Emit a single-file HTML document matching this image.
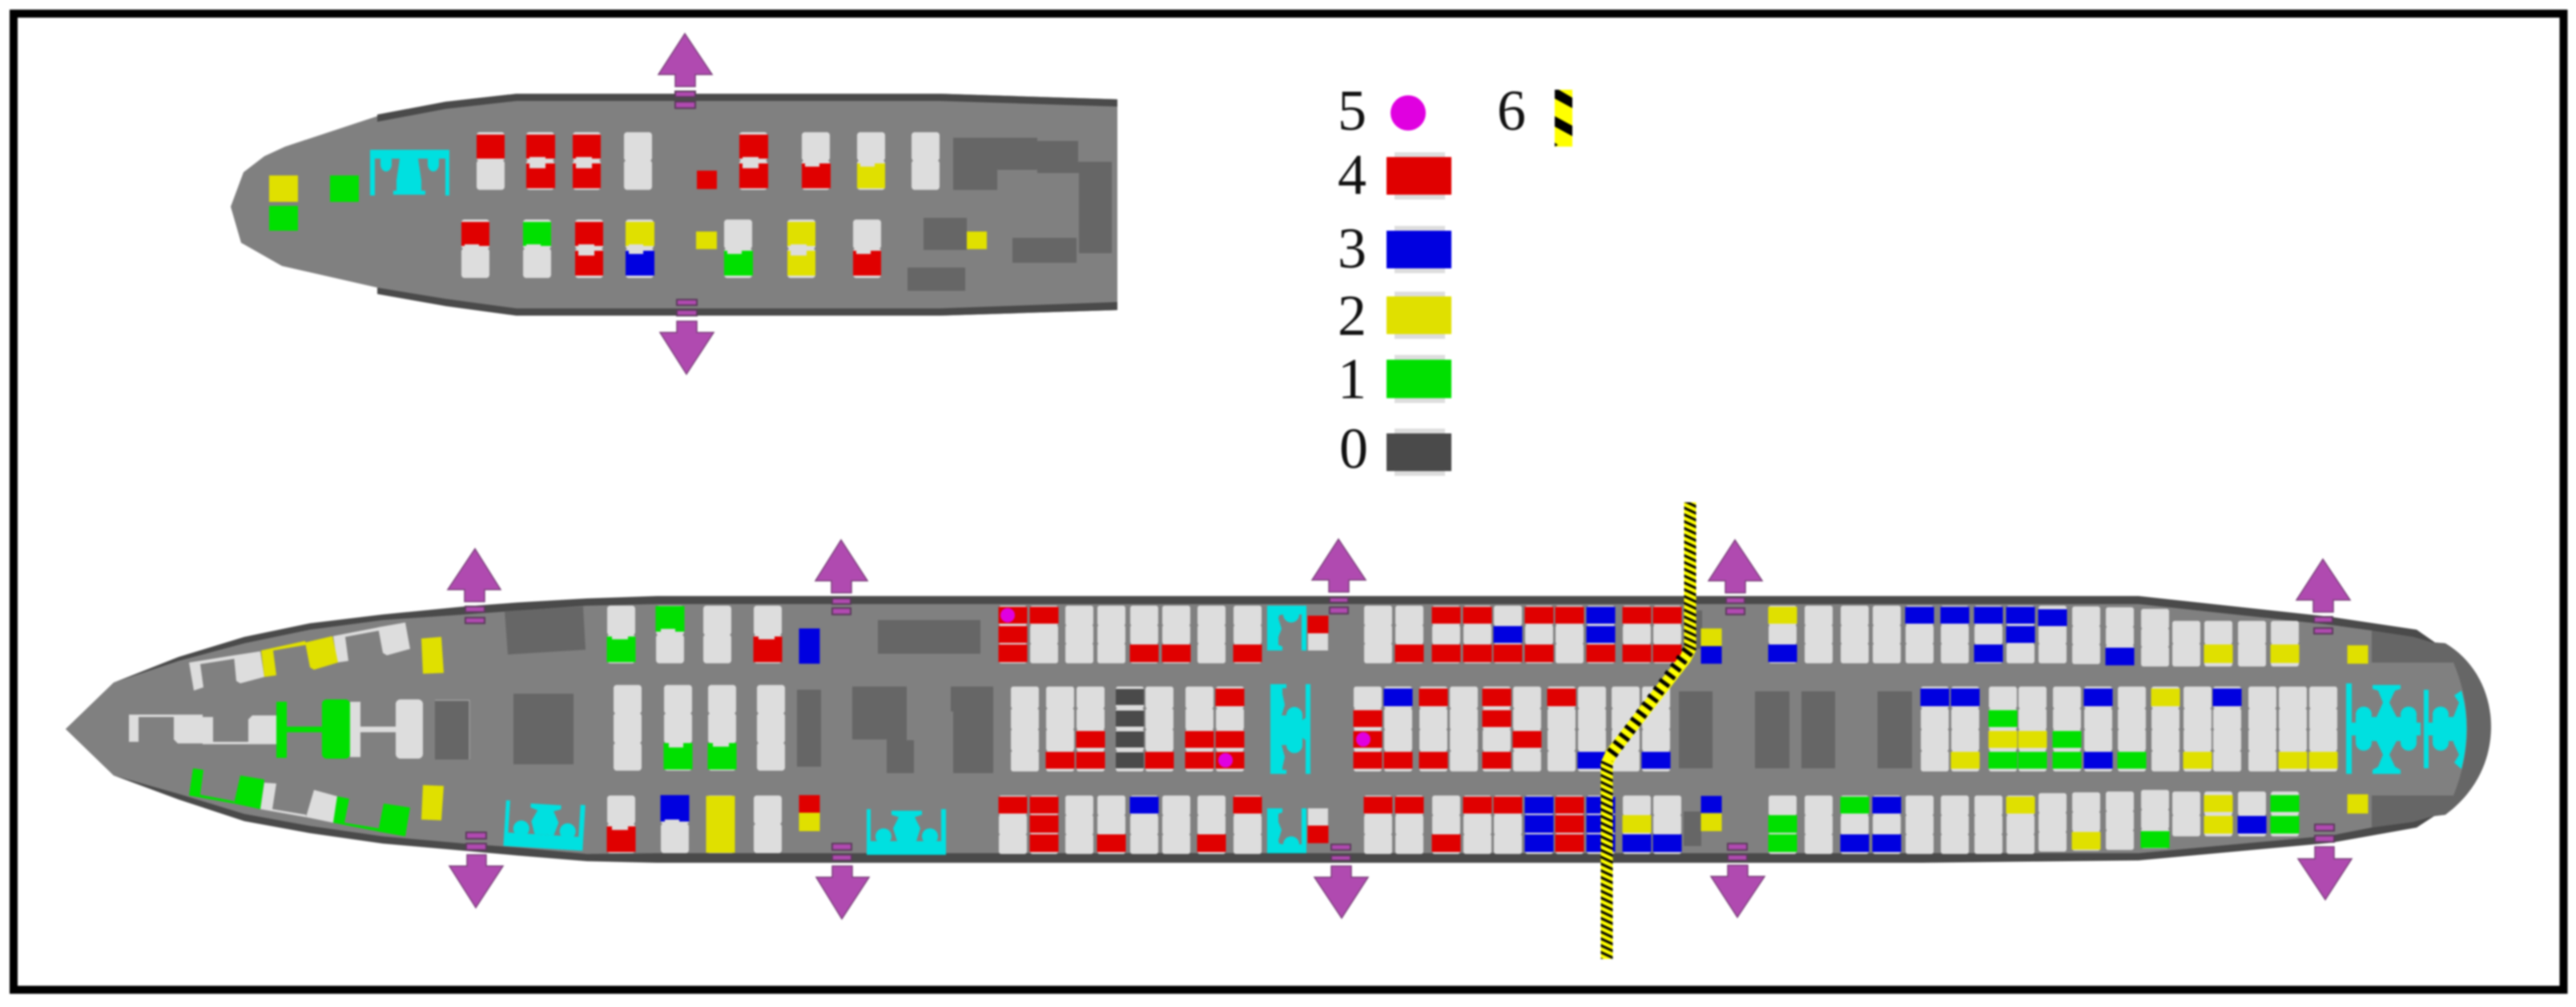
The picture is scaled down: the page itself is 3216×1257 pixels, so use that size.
<!DOCTYPE html>
<html><head><meta charset="utf-8"><title>Aircraft seating diagram</title>
<style>html,body{margin:0;padding:0;background:#fff}svg{display:block;filter:blur(1px)}</style></head>
<body>
<svg xmlns="http://www.w3.org/2000/svg" width="3216" height="1257" viewBox="0 0 3216 1257">
<defs>
<pattern id="hz" patternUnits="userSpaceOnUse" width="40" height="7.7" patternTransform="rotate(25)"><rect width="40" height="7.7" fill="#ff0"/><rect width="40" height="3.2" fill="#000"/></pattern>
<g id="T" fill="#ddd"><rect y="756" width="35" height="25" rx="3"/><rect y="780" width="35" height="24" rx="3"/><rect y="803" width="35" height="25" rx="3"/></g>
<g id="M" fill="#ddd"><rect y="857" width="35" height="27.5" rx="3"/><rect y="884" width="35" height="27" rx="3"/><rect y="910" width="35" height="27.5" rx="3"/><rect y="937" width="35" height="26" rx="3"/></g>
<g id="B" fill="#ddd"><rect y="993" width="35" height="25" rx="3"/><rect y="1017" width="35" height="25" rx="3"/><rect y="1041" width="35" height="25" rx="3"/></g>
<g id="FT" fill="#ddd"><rect y="756" width="35" height="37" rx="4"/><rect y="792" width="35" height="36" rx="4"/></g>
<g id="FM" fill="#ddd"><rect y="855" width="35" height="36" rx="4"/><rect y="890" width="35" height="38" rx="4"/><rect y="927" width="35" height="35" rx="4"/></g>
<g id="FB" fill="#ddd"><rect y="993" width="35" height="36" rx="4"/><rect y="1028" width="35" height="37" rx="4"/></g>
<g id="UT" fill="#ddd"><rect y="165" width="35" height="36" rx="4"/><rect y="200" width="35" height="37" rx="4"/></g>
<g id="UB" fill="#ddd"><rect y="274" width="35" height="37" rx="4"/><rect y="310" width="35" height="37" rx="4"/></g>
<g id="ST" fill="#ddd"><rect y="775" width="35" height="29" rx="3"/><rect y="803" width="35" height="29" rx="3"/></g>
<g id="SB" fill="#ddd"><rect y="988" width="35" height="30" rx="3"/><rect y="1017" width="35" height="27" rx="3"/></g>
<g id="lav" fill="#00e0e0">
<path d="M1082 1010h5v40h88v-40h6v57h-99z"/>
<circle cx="1103" cy="1044" r="10"/><circle cx="1161" cy="1044" r="10"/>
<path d="M1113 1012h38v5l-9 3 7 14-5 16h-24l-5-16 7-14-9-3z"/>
</g>
<path id="lavc" fill="#00e0e0" d="M1582 756H1631V812H1625V767H1622A10 10 0 0 1 1602 767L1597 768 1596 772 1600 785 1596 795V805L1601 807V812H1582Z"/>
</defs>

<rect x="17" y="17" width="3183.5" height="1218.5" fill="#fff" stroke="#000" stroke-width="10"/>

<!-- upper deck -->
<path fill="#808080" d="M288 258L304 215 330 195 356 183 471 145 556 127 645 117H1173L1395 124V387L1173 394H645L556 382 471 359 352 332 301 303Z"/>
<path fill="#4a4a4a" d="M471 143L556 127 645 117H1173L1395 124V133L1173 126H645L556 136 471 152Z"/>
<path fill="#4a4a4a" d="M471 359L556 373 645 385H1173L1395 377V387L1173 394H645L556 382 471 367Z"/>
<path fill="#666" d="M1190 172H1295V176H1346V202H1388V316H1347V216H1295V212H1245V237H1190Z"/>
<rect x="1153" y="272" width="54" height="40" fill="#666"/><rect x="1264" y="297" width="80" height="31" fill="#666"/><rect x="1133" y="334" width="72" height="29" fill="#666"/>
<use href="#UT" x="595"/><use href="#UT" x="657"/><use href="#UT" x="715"/><use href="#UT" x="779"/><use href="#UT" x="923"/><use href="#UT" x="1001"/><use href="#UT" x="1070"/><use href="#UT" x="1138"/>
<use href="#UB" x="576"/><use href="#UB" x="653"/><use href="#UB" x="718"/><use href="#UB" x="781"/><use href="#UB" x="904"/><use href="#UB" x="983"/><use href="#UB" x="1065"/>
<path fill="#e00000" d="M595 168h35v30h-35zM657 168h36v30h-36zM657 204h36v31h-36zM715 168h35v30h-35zM715 204h35v31h-35zM923 168h36v30h-36zM923 204h36v31h-36zM1001 204h36v31h-36zM576 277h35v30h-35zM718 277h35v30h-35zM718 313h35v31h-35zM1065 313h35v31h-35zM870 213h25v23h-25z"/>
<path fill="#e0e000" d="M1070 204h35v31h-35zM781 277h36v30h-36zM983 277h35v30h-35zM983 313h35v31h-35zM869 289h26v22h-26zM1207 289h25v22h-25zM336 219h36v33h-36z"/>
<path fill="#00e000" d="M653 277h35v30h-35zM904 313h36v31h-36zM336 257h36v31h-36zM412 219h36v33h-36z"/>
<path fill="#0000e0" d="M781 313h36v31h-36z"/>
<path fill="#ddd" d="M661 196h20v14h-20zM719 196h20v14h-20zM927 196h20v14h-20zM1005 196h18v12h-18zM1074 196h18v12h-18zM580 305h18v10h-18zM657 305h18v10h-18zM722 305h20v14h-20zM785 305h18v12h-18zM908 305h18v12h-18zM987 305h20v14h-20zM1069 305h18v12h-18z"/>
<path fill="#00e0e0" d="M462 187H561V244H556V198H548V205A7 9 0 0 1 534 205V198H522L526 225V238H531V243H491V238H495V225L499 198H489V205A7 9 0 0 1 475 205V198H468V244H462Z"/>

<!-- main deck body -->
<path fill="#4a4a4a" d="M82 910L142 852 223 820 305 795 387 778 478 767 580 757 647 752 733 747 820 744H2670L2910 770 3017 786 3040 802 3053 803 3110 907 3053 1017 3040 1018 3017 1033 2910 1052 2670 1074 2400 1077H820L733 1075 647 1068 580 1062 478 1053 387 1040 305 1025 223 998 142 968Z"/>
<path fill="#666" d="M2961 787L3013 795 3037 802 3053 803C3090 825 3110 865 3110 907 3110 950 3090 990 3053 1017L3037 1019 3013 1026 2961 1033Z"/>
<path fill="#808080" d="M82 910L142 852 223 825 305 803 387 786 478 774 580 767 733 756 820 754H2670L2910 780 2961 787V827H3063Q3097 908 3063 993H2961V1033L2910 1043 2670 1065H820L733 1066 647 1058 580 1053 478 1044 387 1031 305 1016 223 991 142 968Z"/>

<!-- dark blocks -->
<g fill="#666">
<path d="M630 763L728 757 731 811 634 817Z"/><rect x="641" y="866" width="75" height="88"/><rect x="543" y="875" width="43" height="73"/>
<rect x="1096" y="774" width="128" height="42"/><rect x="995" y="861" width="30" height="96"/>
<path d="M1064 857H1132V924H1141V965H1107V923H1064Z"/><path d="M1187 857H1240V965H1190V888H1187Z"/>
<rect x="2096" y="863" width="42" height="96"/><rect x="2191" y="863" width="43" height="96"/><rect x="2249" y="863" width="42" height="96"/><rect x="2344" y="863" width="43" height="96"/>
<rect x="2105" y="762" width="20" height="48"/><rect x="2102" y="1013" width="22" height="43"/>
</g>
<path d="M543 874H586V948" fill="none" stroke="#aaa" stroke-width="1"/>

<!-- nose seats -->
<g fill="#ddd">
<path d="M236 827L292 818 295 822 250 829 254 858 242 862Z"/><path d="M292 818L325 813 330 845 300 853 295 850Z"/>
<path d="M416 794L473 783 474 787 431 795 435 825 421 827Z"/><path d="M472 783L506 777 512 810 483 818 478 815Z"/>
<path d="M161 892H218V895H173V926H161Z"/><path d="M217 892H253V928H222L217 923Z"/>
<path d="M253 895H266V926H310V929H253Z"/><path d="M315 893H345V929H310V898Z"/>
<path d="M437 876H450V907H494V914H450V945H437Z"/><rect x="494" y="873" width="34" height="74" rx="6"/>
<path d="M330 977L345 978 340 1010 382 1017V1020L325 1010Z"/><path d="M392 986L421 994 416 1027 382 1020Z"/>
</g>
<g fill="#e0e000">
<path d="M326 812L381 800 382 805 341 812 345 843 330 845Z"/><path d="M381 802L415 794 422 827 392 836 387 833Z"/>
<path d="M526 797L551 795 554 840 528 841Z"/><path d="M528 980L554 981 551 1024 526 1023Z"/>
</g>
<g fill="#00e000">
<path d="M345 876H358V907H402V914H358V946H345Z"/><rect x="402" y="873" width="35" height="74" rx="6"/>
<path d="M241 959L254 961 250 992 292 1000V1003L236 993Z"/><path d="M300 968L330 973 325 1010 292 1003Z"/>
<path d="M421 994L436 997 430 1027 473 1034V1038L416 1027Z"/><path d="M479 1003L512 1008 506 1044 472 1038Z"/>
</g>

<!-- main seat columns -->
<use href="#FT" x="758"/><use href="#FT" x="819"/><use href="#FT" x="878"/><use href="#FT" x="941"/>
<use href="#FM" x="766"/><use href="#FM" x="829"/><use href="#FM" x="884"/><use href="#FM" x="945"/>
<use href="#FB" x="758"/><use href="#FB" x="825"/><use href="#FB" x="882"/><use href="#FB" x="941"/>
<use href="#T" x="1247"/><use href="#T" x="1286"/><use href="#T" x="1330"/><use href="#T" x="1370"/><use href="#T" x="1411"/><use href="#T" x="1451"/><use href="#T" x="1495"/><use href="#T" x="1540"/>
<use href="#T" x="1703"/><use href="#T" x="1742"/><use href="#T" x="1788"/><use href="#T" x="1827"/><use href="#T" x="1865"/><use href="#T" x="1904"/><use href="#T" x="1942"/><use href="#T" x="1981"/><use href="#T" x="2026"/><use href="#T" x="2064"/>
<use href="#T" x="2208"/><use href="#T" x="2253"/><use href="#T" x="2298"/><use href="#T" x="2338"/><use href="#T" x="2379"/><use href="#T" x="2423"/><use href="#T" x="2465"/><use href="#T" x="2505"/><use href="#T" x="2545"/><use href="#T" x="2587" y="1"/><use href="#T" x="2629" y="2"/><use href="#T" x="2673" y="4"/>
<use href="#ST" x="2712"/><use href="#ST" x="2752"/><use href="#ST" x="2794"/><use href="#ST" x="2835"/>
<use href="#M" x="1262"/><use href="#M" x="1306"/><use href="#M" x="1344"/><use href="#M" x="1393"/><use href="#M" x="1430"/><use href="#M" x="1480"/><use href="#M" x="1518"/>
<use href="#M" x="1690"/><use href="#M" x="1728"/><use href="#M" x="1772"/><use href="#M" x="1810"/><use href="#M" x="1851"/><use href="#M" x="1889"/><use href="#M" x="1932"/><use href="#M" x="1970"/><use href="#M" x="2012"/><use href="#M" x="2050"/>
<use href="#M" x="2398"/><use href="#M" x="2436"/><use href="#M" x="2483"/><use href="#M" x="2520"/><use href="#M" x="2563"/><use href="#M" x="2602"/><use href="#M" x="2644"/><use href="#M" x="2686"/><use href="#M" x="2726"/><use href="#M" x="2763"/><use href="#M" x="2807"/><use href="#M" x="2845"/><use href="#M" x="2883"/>
<use href="#B" x="1247"/><use href="#B" x="1286"/><use href="#B" x="1330"/><use href="#B" x="1370"/><use href="#B" x="1411"/><use href="#B" x="1451"/><use href="#B" x="1495"/><use href="#B" x="1540"/>
<use href="#B" x="1703"/><use href="#B" x="1742"/><use href="#B" x="1788"/><use href="#B" x="1827"/><use href="#B" x="1865"/><use href="#B" x="1904"/><use href="#B" x="1942"/><use href="#B" x="1981"/><use href="#B" x="2026"/><use href="#B" x="2064"/>
<use href="#B" x="2208"/><use href="#B" x="2253"/><use href="#B" x="2298"/><use href="#B" x="2338"/><use href="#B" x="2379"/><use href="#B" x="2423"/><use href="#B" x="2465"/><use href="#B" x="2505"/><use href="#B" x="2545" y="-3"/><use href="#B" x="2587" y="-4"/><use href="#B" x="2629" y="-5"/><use href="#B" x="2673" y="-7"/>
<use href="#SB" x="2712"/><use href="#SB" x="2752"/><use href="#SB" x="2794"/><use href="#SB" x="2835"/>
<g fill="#ddd"><rect x="1633" y="790" width="25" height="22"/><rect x="1633" y="1009" width="25" height="22"/></g>

<!-- coloured cells -->
<path fill="#e00000" stroke="#e00000" d="M1247 758h35v20h-35zM1247 782h35v20h-35zM1247 805h35v21h-35zM1286 758h35v20h-35zM1411 805h35v21h-35zM1451 805h35v21h-35zM1540 805h35v21h-35zM1742 805h35v21h-35zM1788 758h35v20h-35zM1788 805h35v21h-35zM1827 758h35v20h-35zM1827 805h35v21h-35zM1865 805h35v21h-35zM1904 758h35v20h-35zM1904 805h35v21h-35zM1942 758h35v20h-35zM1981 805h35v21h-35zM2026 758h35v20h-35zM2026 805h35v21h-35zM2064 758h35v20h-35zM2064 805h35v21h-35z
M1306 939h35v20h-35zM1344 913h35v20h-35zM1344 939h35v20h-35zM1430 939h35v20h-35zM1480 913h35v20h-35zM1480 939h35v20h-35zM1518 860h35v21h-35zM1518 913h35v20h-35zM1518 939h35v20h-35zM1690 887h35v20h-35zM1690 913h35v20h-35zM1690 939h35v20h-35zM1728 939h35v20h-35zM1772 860h35v21h-35zM1772 939h35v20h-35zM1851 860h35v21h-35zM1851 887h35v20h-35zM1851 939h35v20h-35zM1889 913h35v20h-35zM1932 860h35v21h-35z
M1247 995h35v20h-35zM1286 995h35v20h-35zM1286 1018h35v21h-35zM1286 1042h35v21h-35zM1370 1042h35v21h-35zM1495 1042h35v21h-35zM1540 995h35v20h-35zM1703 995h35v20h-35zM1742 995h35v20h-35zM1788 1042h35v21h-35zM1827 995h35v20h-35zM1865 995h35v20h-35zM1942 995h35v20h-35zM1942 1018h35v21h-35zM1942 1042h35v21h-35z
M941 795h35v31h-35zM758 1032h35v31h-35zM998 993h25v21h-25zM1633 769h25v21h-25zM1633 1031h25v21h-25z"/>
<path fill="#0000e0" stroke="#0000e0" d="M1865 782h35v20h-35zM1981 758h35v20h-35zM1981 782h35v20h-35zM2379 758h35v20h-35zM2423 758h35v20h-35zM2465 758h35v20h-35zM2465 805h35v21h-35zM2505 758h35v20h-35zM2505 782h35v20h-35zM2545 761h35v20h-35zM2629 809h35v21h-35zM2208 805h35v21h-35z
M1728 860h35v21h-35zM1970 939h35v20h-35zM2050 939h35v20h-35zM2398 860h35v21h-35zM2436 860h35v21h-35zM2602 860h35v21h-35zM2602 939h35v20h-35zM2763 860h35v21h-35z
M1904 995h35v20h-35zM1904 1018h35v21h-35zM1904 1042h35v21h-35zM1981 995h35v20h-35zM1981 1018h35v21h-35zM1981 1042h35v21h-35zM2026 1042h35v21h-35zM2064 1042h35v21h-35zM2298 1042h35v21h-35zM2338 995h35v20h-35zM2338 1042h35v21h-35zM1411 995h35v20h-35zM825 993h35v32h-35z
M998 785h25v43h-25zM2124 807h25v21h-25zM2124 994h25v20h-25zM2794 1019h35v21h-35z"/>
<path fill="#e0e000" stroke="#e0e000" d="M2208 758h35v20h-35zM2752 805h35v22h-35zM2835 805h35v22h-35zM2436 939h35v20h-35zM2483 913h35v20h-35zM2520 913h35v20h-35zM2686 860h35v21h-35zM2726 939h35v20h-35zM2845 939h35v20h-35zM2883 939h35v20h-35zM2026 1018h35v21h-35zM2505 995h35v20h-35zM2587 1039h35v21h-35zM2752 993h35v20h-35zM2752 1019h35v21h-35zM882 994h35v70h-35zM2124 785h25v21h-25zM2124 1016h25v21h-25zM998 1015h25v22h-25zM2931 806h25v22h-25zM2931 992h25v23h-25z"/>
<path fill="#00e000" stroke="#00e000" d="M829 928h35v32h-35zM884 928h35v32h-35zM2483 887h35v20h-35zM2483 939h35v20h-35zM2520 939h35v20h-35zM2563 913h35v20h-35zM2563 939h35v20h-35zM2644 939h35v20h-35zM2208 1018h35v21h-35zM2208 1042h35v21h-35zM2298 995h35v20h-35zM2673 1038h35v20h-35zM2835 993h35v20h-35zM2835 1019h35v21h-35zM758 795h35v31h-35zM819 757h35v31h-35z"/>
<path fill="#4a4a4a" d="M1393 860h35v20h-35zM1393 887h35v20h-35zM1393 913h35v20h-35zM1393 939h35v20h-35z"/>
<path fill="#ddd" d="M764 788h20v10h-20zM825 785h18v10h-18zM947 788h20v10h-20zM835 924h18v9h-18zM890 924h20v8h-20zM764 1026h20v10h-20zM830 1023h18v8h-18z"/>
<ellipse cx="1258" cy="768" rx="9" ry="9" fill="#e000e0"/><ellipse cx="1530" cy="949" rx="9" ry="9" fill="#e000e0"/><ellipse cx="1702" cy="923" rx="9" ry="9" fill="#e000e0"/>

<!-- cyan lavatories -->
<use href="#lav"/>
<use href="#lav" transform="translate(-452 -8) rotate(3.5 1132 1040)"/>
<use href="#lavc"/><use href="#lavc" transform="translate(0 1821) scale(1 -1)"/>
<path fill="#00e0e0" d="M1586 854H1606V859H1601V866L1604 880 1600 893H1606A10 10 0 0 1 1626 892V899L1630 896V854H1636V966H1630V924L1626 921V930A10 10 0 0 1 1606 930H1600L1604 945 1601 958V961H1606V966H1586Z"/>
<g fill="#00e0e0">
<rect x="2929" y="853" width="7" height="113"/><rect x="3026" y="861" width="6" height="98"/>
<rect x="2936" y="902" width="86" height="16"/><rect x="2941" y="895" width="76" height="30"/>
<circle cx="2951" cy="892" r="10"/><circle cx="2951" cy="927" r="10"/><circle cx="3007" cy="892" r="10"/><circle cx="3007" cy="927" r="10"/>
<path d="M2962 855H2997V860L2990 862 2983 877 2992 895V925L2983 942 2990 957 2997 961V966H2962V961L2969 957 2975 942 2967 925V895L2975 877 2969 862 2962 860Z"/>
<rect x="3032" y="902" width="8" height="16"/><rect x="3037" y="895" width="30" height="30"/>
<circle cx="3047" cy="892" r="10"/><circle cx="3047" cy="927" r="10"/>
<path d="M3064 868L3073 862Q3086 908 3073 960L3064 952 3070 942 3063 927V895L3070 877Z"/>
</g>

<!-- exits -->
<g fill="#b04ab0" stroke="#7a3f7a" stroke-width="1.5">
<path d="M855 42L889 93H868V108H843V93H822Z"/><path d="M857 467L891 415H870V401H845V415H824Z"/>
<path d="M593 685L625 736H605V751H580V736H559Z"/><path d="M594 1133L628 1081H607V1067H583V1081H561Z"/>
<path d="M1050 674L1083 725H1063V740H1038V725H1018Z"/><path d="M1051 1147L1085 1095H1064V1081H1039V1095H1019Z"/>
<path d="M1671 673L1705 724H1684V739H1659V724H1638Z"/><path d="M1675 1146L1708 1095H1687V1081H1662V1095H1641Z"/>
<path d="M2166 674L2200 725H2179V740H2154V725H2133Z"/><path d="M2169 1145L2203 1094H2182V1080H2157V1094H2136Z"/>
<path d="M2900 698L2934 749H2913V764H2888V749H2867Z"/><path d="M2903 1123L2936 1072H2914V1057H2890V1072H2869Z"/>
</g>
<g fill="#b04ab0" stroke="#5c3a5c" stroke-width="2">
<rect x="843" y="114" width="25" height="7"/><rect x="843" y="127" width="25" height="8"/><rect x="845" y="374" width="25" height="7"/><rect x="845" y="387" width="25" height="7"/>
<rect x="581" y="757" width="24" height="7"/><rect x="581" y="771" width="24" height="7"/><rect x="582" y="1039" width="25" height="8"/><rect x="582" y="1053" width="25" height="8"/>
<rect x="1039" y="747" width="23" height="7"/><rect x="1039" y="759" width="23" height="8"/><rect x="1039" y="1053" width="24" height="8"/><rect x="1039" y="1067" width="24" height="7"/>
<rect x="1660" y="746" width="23" height="6"/><rect x="1660" y="758" width="23" height="8"/><rect x="1662" y="1054" width="24" height="7"/><rect x="1662" y="1068" width="24" height="6"/>
<rect x="2155" y="746" width="23" height="7"/><rect x="2155" y="759" width="23" height="8"/><rect x="2157" y="1053" width="24" height="8"/><rect x="2157" y="1067" width="24" height="7"/>
<rect x="2889" y="770" width="23" height="7"/><rect x="2889" y="784" width="23" height="7"/><rect x="2890" y="1029" width="24" height="8"/><rect x="2890" y="1043" width="24" height="8"/>
</g>

<!-- hazard line -->
<path d="M2110 627V810L2104 822 2012 940 2006 953V1197" fill="none" stroke="#ff0" stroke-width="15"/>
<path d="M2110 627V812" fill="none" stroke="url(#hz)" stroke-width="15"/>
<path d="M2006 950V1197" fill="none" stroke="url(#hz)" stroke-width="15"/>
<path d="M2108 812L2010 944" fill="none" stroke="#000" stroke-width="15" stroke-dasharray="5 7"/>

<!-- legend -->
<g font-family="'Liberation Serif',serif" font-size="72" text-anchor="middle" fill="#111">
<text x="1688" y="162">5</text><text x="1688" y="242">4</text><text x="1688" y="334">3</text><text x="1688" y="418">2</text><text x="1688" y="497">1</text><text x="1690" y="584">0</text><text x="1887" y="162">6</text>
</g>
<circle cx="1758" cy="141" r="22" fill="#e000e0"/>
<g fill="#ddd"><rect x="1741" y="190" width="63" height="59"/><rect x="1741" y="282" width="63" height="59"/><rect x="1741" y="364" width="63" height="59"/><rect x="1741" y="443" width="63" height="60"/><rect x="1741" y="535" width="63" height="59"/></g>
<rect x="1731" y="196" width="81" height="47" fill="#e00000"/><rect x="1731" y="288" width="81" height="47" fill="#0000e0"/><rect x="1731" y="370" width="81" height="47" fill="#e0e000"/><rect x="1731" y="449" width="81" height="48" fill="#00e000"/><rect x="1731" y="541" width="81" height="47" fill="#4a4a4a"/>
<rect x="1941" y="112" width="22" height="71" fill="#ff0"/>
<path d="M1941 112H1946L1963 122V135L1941 123ZM1941 145L1963 157V170L1941 158ZM1941 178L1945 181 1941 183Z" fill="#000"/>
</svg>
</body></html>
